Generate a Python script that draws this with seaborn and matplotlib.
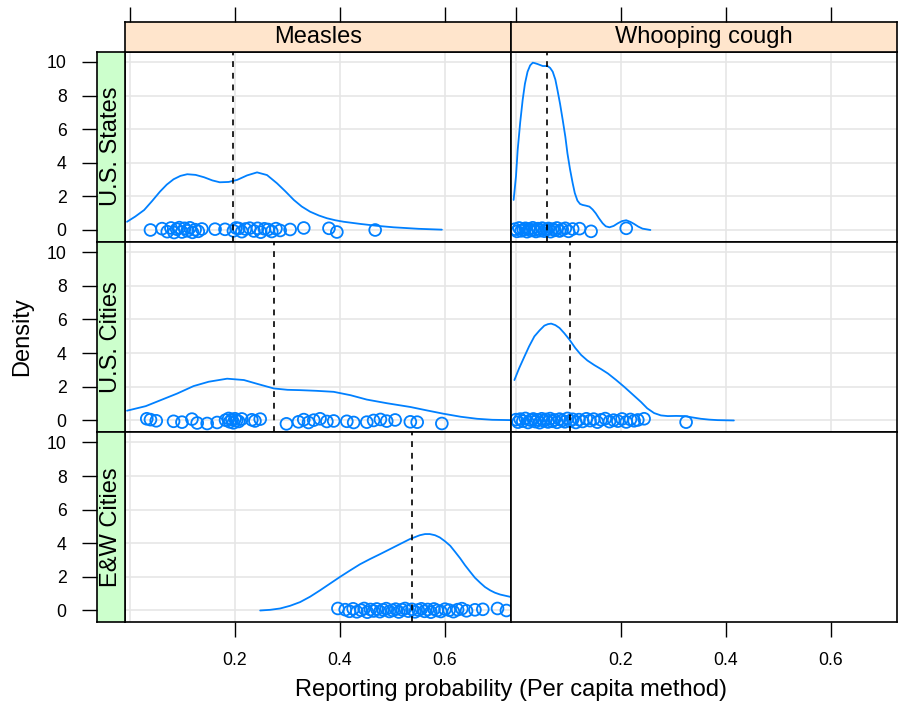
import matplotlib
matplotlib.use("Agg")
import matplotlib.pyplot as plt
import pandas as pd
import seaborn as sns

sns.set_theme(style="white")
plt.rcParams["font.family"] = ["Liberation Sans", "DejaVu Sans"]

# ---------------- data ----------------
diseases = ["Measles", "Whooping cough"]
regions = ["U.S. States", "U.S. Cities", "E&W Cities"]
x_ticks = [0.2, 0.4, 0.6]
x_tick_labels = ["0.2", "0.4", "0.6"]
y_ticks = [0, 2, 4, 6, 8, 10]
y_tick_labels = ["0", "2", "4", "6", "8", "10"]
x_label = "Reporting probability (Per capita method)"
y_label = "Density"

# U.S. States - Measles
states_measles_x = [0.039, 0.061, 0.071, 0.078, 0.084, 0.089, 0.094, 0.099, 0.104, 0.109,
                    0.114, 0.119, 0.124, 0.130, 0.137, 0.162, 0.181, 0.197, 0.202, 0.207,
                    0.213, 0.220, 0.228, 0.236, 0.243, 0.249, 0.256, 0.263, 0.270, 0.278,
                    0.286, 0.305, 0.331, 0.379, 0.394, 0.467]
states_measles_jit = [0.0, 0.08, -0.10, 0.12, -0.15, 0.05, 0.14, -0.12, 0.10, -0.05,
                      0.13, -0.14, 0.02, -0.08, 0.06, 0.05, 0.04, -0.05, 0.12, 0.09,
                      -0.10, 0.06, 0.11, -0.06, 0.10, -0.13, 0.07, 0.03, -0.09, 0.08,
                      -0.03, 0.03, 0.12, 0.10, -0.12, 0.0]
states_measles_curve_x = [-0.0057, 0.010, 0.027, 0.042, 0.057, 0.070, 0.083, 0.096, 0.109,
                          0.125, 0.141, 0.157, 0.171, 0.188, 0.204, 0.223, 0.242, 0.261,
                          0.280, 0.296, 0.312, 0.327, 0.343, 0.360, 0.375, 0.391, 0.407,
                          0.439, 0.470, 0.502, 0.550, 0.594]
states_measles_curve_y = [0.49, 0.80, 1.19, 1.72, 2.28, 2.70, 3.02, 3.22, 3.32,
                          3.28, 3.14, 2.95, 2.84, 2.86, 2.98, 3.25, 3.43, 3.27,
                          2.78, 2.30, 1.79, 1.40, 1.09, 0.86, 0.70, 0.58, 0.49,
                          0.36, 0.25, 0.16, 0.07, 0.02]
states_measles_median = 0.196

# U.S. Cities - Measles
cities_measles_x = [0.032, 0.039, 0.050, 0.083, 0.099, 0.118, 0.128, 0.147, 0.166, 0.182,
                    0.188, 0.190, 0.194, 0.197, 0.200, 0.203, 0.207, 0.213, 0.232, 0.238,
                    0.248, 0.298, 0.321, 0.331, 0.340, 0.350, 0.362, 0.375, 0.388, 0.413,
                    0.426, 0.451, 0.464, 0.477, 0.489, 0.505, 0.534, 0.547, 0.594]
cities_measles_jit = [0.10, 0.05, -0.02, -0.05, -0.10, 0.08, -0.15, -0.18, -0.12, 0.02,
                      0.12, -0.08, 0.06, -0.14, 0.10, 0.0, -0.06, 0.09, 0.04, -0.03,
                      0.08, -0.20, -0.08, 0.05, -0.12, 0.02, 0.10, -0.06, -0.03, -0.05,
                      -0.12, -0.10, 0.0, 0.06, -0.04, 0.03, -0.08, -0.10, -0.18]
cities_measles_curve_x = [-0.0057, 0.030, 0.058, 0.090, 0.121, 0.150, 0.185, 0.217, 0.245,
                          0.274, 0.300, 0.324, 0.355, 0.388, 0.420, 0.451, 0.490, 0.534,
                          0.565, 0.597, 0.630, 0.661, 0.690, 0.726]
cities_measles_curve_y = [0.58, 0.85, 1.20, 1.60, 2.04, 2.30, 2.48, 2.40, 2.15,
                          1.90, 1.82, 1.80, 1.76, 1.70, 1.50, 1.24, 1.02, 0.80,
                          0.60, 0.40, 0.22, 0.10, 0.04, 0.02]
cities_measles_median = 0.274

# E&W Cities - Measles
ew_measles_x = [0.396, 0.410, 0.418, 0.425, 0.432, 0.440, 0.446, 0.452, 0.458, 0.464,
                0.470, 0.476, 0.482, 0.488, 0.494, 0.500, 0.506, 0.512, 0.518, 0.524,
                0.530, 0.537, 0.543, 0.549, 0.555, 0.561, 0.567, 0.573, 0.579, 0.585,
                0.592, 0.600, 0.608, 0.616, 0.624, 0.632, 0.641, 0.657, 0.672, 0.700,
                0.717]
ew_measles_jit = [0.12, 0.05, -0.05, 0.10, -0.08, 0.02, 0.12, -0.10, 0.06, -0.03,
                  0.09, -0.07, 0.04, 0.11, -0.06, 0.01, 0.08, -0.09, 0.05, 0.12,
                  -0.04, 0.07, -0.08, 0.03, 0.10, -0.05, 0.06, -0.10, 0.09, 0.0,
                  -0.06, 0.08, 0.02, -0.07, 0.05, 0.11, -0.02, 0.04, 0.07, 0.12,
                  0.0]
ew_measles_curve_x = [0.248, 0.267, 0.286, 0.305, 0.324, 0.343, 0.362, 0.381, 0.400, 0.419,
                      0.438, 0.457, 0.476, 0.495, 0.514, 0.533, 0.552, 0.562, 0.571, 0.581,
                      0.590, 0.600, 0.610, 0.619, 0.629, 0.638, 0.648, 0.657, 0.667, 0.676,
                      0.686, 0.695, 0.705, 0.726]
ew_measles_curve_y = [0.0, 0.04, 0.12, 0.28, 0.50, 0.82, 1.20, 1.60, 2.00, 2.38,
                      2.75, 3.06, 3.35, 3.65, 3.95, 4.25, 4.48, 4.55, 4.55, 4.48,
                      4.35, 4.12, 3.85, 3.50, 3.10, 2.70, 2.30, 1.95, 1.65, 1.40,
                      1.20, 1.06, 0.95, 0.80]
ew_measles_median = 0.537

# U.S. States - Whooping cough
states_whoop_x = [-0.002, 0.002, 0.006, 0.010, 0.014, 0.018, 0.021, 0.025, 0.028, 0.032,
                  0.035, 0.038, 0.042, 0.046, 0.050, 0.054, 0.058, 0.062, 0.066, 0.070,
                  0.074, 0.078, 0.083, 0.088, 0.094, 0.100, 0.108, 0.121, 0.143, 0.210]
states_whoop_jit = [0.05, -0.08, 0.12, -0.05, 0.02, 0.10, -0.10, 0.06, -0.03, 0.13,
                    0.0, -0.09, 0.08, -0.04, 0.11, -0.07, 0.03, 0.09, -0.10, 0.05,
                    -0.02, 0.12, -0.06, 0.04, 0.10, -0.08, 0.06, 0.08, -0.08, 0.10]
states_whoop_curve_x = [-0.0045, 0.0, 0.0032, 0.008, 0.0127, 0.017, 0.022, 0.027, 0.032,
                        0.036, 0.041, 0.051, 0.060, 0.065, 0.070, 0.075, 0.079, 0.084,
                        0.089, 0.094, 0.098, 0.103, 0.108, 0.112, 0.117, 0.122, 0.127,
                        0.133, 0.140, 0.146, 0.152, 0.158, 0.165, 0.171, 0.178, 0.186,
                        0.194, 0.202, 0.210, 0.218, 0.225, 0.233, 0.241, 0.256]
states_whoop_curve_y = [1.79, 3.20, 4.76, 6.40, 7.74, 8.70, 9.42, 9.80, 9.96,
                        9.93, 9.88, 9.76, 9.76, 9.65, 9.42, 8.95, 8.33, 7.50,
                        6.55, 5.55, 4.56, 3.60, 2.78, 2.20, 1.75, 1.55, 1.49,
                        1.45, 1.39, 1.22, 0.99, 0.70, 0.40, 0.22, 0.16, 0.24,
                        0.40, 0.53, 0.58, 0.48, 0.36, 0.20, 0.08, 0.0]
states_whoop_median = 0.059

# U.S. Cities - Whooping cough
cities_whoop_x = [0.000, 0.004, 0.008, 0.013, 0.018, 0.023, 0.028, 0.033, 0.037, 0.041,
                  0.045, 0.049, 0.053, 0.057, 0.061, 0.065, 0.069, 0.073, 0.078, 0.083,
                  0.088, 0.093, 0.098, 0.103, 0.108, 0.114, 0.120, 0.127, 0.134, 0.141,
                  0.148, 0.155, 0.162, 0.170, 0.178, 0.186, 0.194, 0.202, 0.210, 0.218,
                  0.225, 0.232, 0.244, 0.324]
cities_whoop_jit = [0.05, -0.10, 0.08, -0.04, 0.12, -0.12, 0.02, 0.09, -0.07, 0.04,
                    -0.13, 0.10, -0.02, 0.06, -0.09, 0.11, -0.05, 0.03, -0.11, 0.08,
                    0.0, -0.08, 0.12, -0.03, 0.07, -0.12, 0.05, -0.06, 0.10, -0.01,
                    0.08, -0.10, 0.04, 0.11, -0.07, 0.02, -0.04, 0.09, -0.09, 0.06,
                    -0.02, 0.03, 0.10, -0.10]
cities_whoop_curve_x = [-0.003, 0.006, 0.016, 0.025, 0.035, 0.045, 0.054, 0.061, 0.067,
                        0.075, 0.083, 0.092, 0.102, 0.113, 0.124, 0.136, 0.149, 0.162,
                        0.175, 0.190, 0.206, 0.222, 0.238, 0.250, 0.263, 0.276, 0.289,
                        0.305, 0.321, 0.336, 0.352, 0.368, 0.384, 0.415]
cities_whoop_curve_y = [2.40, 3.10, 3.79, 4.40, 4.99, 5.35, 5.63, 5.72, 5.75,
                        5.66, 5.49, 5.18, 4.79, 4.30, 3.89, 3.56, 3.29, 3.05,
                        2.79, 2.42, 2.00, 1.55, 1.10, 0.72, 0.44, 0.30, 0.26,
                        0.27, 0.26, 0.18, 0.10, 0.05, 0.02, 0.0]
cities_whoop_median = 0.103

# ---------------- layout / style ----------------
BLUE = "#0080FF"
GRID = "#E6E6E6"
STRIP_TOP = "#FFE5CC"
STRIP_LEFT = "#CCFFCC"
W, H = 902, 708
XLIM = (-0.0095, 0.7257)
YLIM = (-0.685, 10.625)
col_px = [(125, 511), (511, 897)]
row_px = [(51.5, 241.5), (241.5, 432), (432, 622)]
TICK_LEN = 10.8
TICK_FS = 12.7
LAB_FS = 17


def rect(l, t, r, b):
    return [l / W, 1 - b / H, (r - l) / W, (b - t) / H]


panels = {
    (0, 0): (states_measles_x, states_measles_jit, states_measles_curve_x, states_measles_curve_y, states_measles_median),
    (1, 0): (cities_measles_x, cities_measles_jit, cities_measles_curve_x, cities_measles_curve_y, cities_measles_median),
    (2, 0): (ew_measles_x, ew_measles_jit, ew_measles_curve_x, ew_measles_curve_y, ew_measles_median),
    (0, 1): (states_whoop_x, states_whoop_jit, states_whoop_curve_x, states_whoop_curve_y, states_whoop_median),
    (1, 1): (cities_whoop_x, cities_whoop_jit, cities_whoop_curve_x, cities_whoop_curve_y, cities_whoop_median),
}

fig = plt.figure(figsize=(W / 100, H / 100), dpi=100)
fig.patch.set_facecolor("white")

for ri, (t, b) in enumerate(row_px):
    for ci, (l, r) in enumerate(col_px):
        ax = fig.add_axes(rect(l, t, r, b))
        ax.set_facecolor("white")
        ax.set_xlim(*XLIM)
        ax.set_ylim(*YLIM)
        for s in ax.spines.values():
            s.set_color("black")
            s.set_linewidth(1.2)
            s.set_zorder(10)
        if (ri, ci) in panels:
            px, pj, cx, cy, med = panels[(ri, ci)]
            for gx in [0.0] + x_ticks:
                ax.axvline(gx, color=GRID, lw=1.2, zorder=0)
            for gy in y_ticks:
                ax.axhline(gy, color=GRID, lw=1.2, zorder=0)
            pts = pd.DataFrame({"x": px, "y": pj})
            cur = pd.DataFrame({"x": cx, "y": cy})
            sns.lineplot(data=cur, x="x", y="y", ax=ax, color=BLUE, lw=1.3,
                         sort=False, estimator=None, zorder=3)
            sns.scatterplot(data=pts, x="x", y="y", ax=ax, marker="o", s=72,
                            facecolor="none", edgecolor=BLUE, linewidth=1.3, zorder=4)
            ax.collections[-1].set_facecolor("none")
            ax.axvline(med, color="black", lw=1.2, ls=(0, (3.5, 3.5)), zorder=5)
        ax.set_xlabel("")
        ax.set_ylabel("")
        if ri == 2:
            ax.set_xticks(x_ticks)
            ax.set_xticklabels(x_tick_labels)
            ax.tick_params(axis="x", bottom=True, top=False, length=TICK_LEN, width=1.0,
                           pad=TICK_LEN, labelsize=TICK_FS, color="black", labelcolor="black",
                           direction="out")
        else:
            ax.set_xticks([])
        ax.set_yticks([])

# top strips
for ci, (l, r) in enumerate(col_px):
    sax = fig.add_axes(rect(l, 22.3, r, 51.5))
    sax.set_facecolor(STRIP_TOP)
    sax.set_xlim(*XLIM)
    sax.set_ylim(0, 1)
    for s in sax.spines.values():
        s.set_color("black")
        s.set_linewidth(1.2)
    sax.set_xticks([0.0] + x_ticks)
    sax.set_yticks([])
    sax.tick_params(axis="x", top=True, bottom=False, labeltop=False, labelbottom=False,
                    length=TICK_LEN, width=1.0, color="black", direction="out")
    sax.text(0.5, 0.5, diseases[ci], transform=sax.transAxes, ha="center", va="center",
             fontsize=LAB_FS, color="black")

# left strips
for ri, (t, b) in enumerate(row_px):
    sax = fig.add_axes(rect(96.7, t, 125, b))
    sax.set_facecolor(STRIP_LEFT)
    sax.set_ylim(*YLIM)
    sax.set_xlim(0, 1)
    for s in sax.spines.values():
        s.set_color("black")
        s.set_linewidth(1.2)
    sax.set_xticks([])
    sax.set_yticks(y_ticks)
    sax.set_yticklabels(y_tick_labels)
    sax.tick_params(axis="y", left=True, right=False, length=TICK_LEN, width=1.0,
                    pad=TICK_LEN, labelsize=TICK_FS, color="black", labelcolor="black",
                    direction="out")
    sax.text(0.5, 0.5, regions[ri], transform=sax.transAxes, ha="center", va="center",
             rotation=90, fontsize=LAB_FS, color="black")

fig.text(22 / W, 1 - 336.75 / H, y_label, rotation=90, ha="center", va="center",
         fontsize=LAB_FS, color="black")
fig.text(511 / W, 1 - 690 / H, x_label, ha="center", va="center",
         fontsize=LAB_FS, color="black")

fig.savefig("out.png", dpi=100, facecolor="white")
